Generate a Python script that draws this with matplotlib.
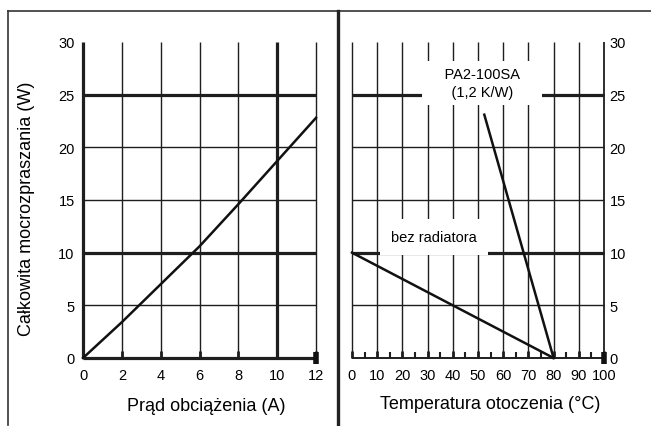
import matplotlib
matplotlib.use('Agg')
import matplotlib.pyplot as plt
from matplotlib.lines import Line2D

plt.rcParams['font.family'] = ['Liberation Sans', 'DejaVu Sans']

# ---- data ----
current_a = [0, 2, 4, 6, 8, 10, 12]
power_w = [0, 3.4, 7.0, 10.6, 14.6, 18.7, 22.8]

temp_bez = [0, 80]
power_bez = [10, 0]
temp_pa = [52.5, 80]
power_pa = [23.1, 0]

left_xticks = [0, 2, 4, 6, 8, 10, 12]
right_xticks = [0, 10, 20, 30, 40, 50, 60, 70, 80, 90, 100]
right_xminor = [5, 15, 25, 35, 45, 55, 65, 75, 85, 95]
yticks = [0, 5, 10, 15, 20, 25, 30]
left_thick_x = [0, 10]
left_thick_y = [0, 10, 25]
right_thick_y = [10, 25]

label_pa = "    PA2-100SA    \n    (1,2 K/W)    "
label_bez = "bez radiatora"

W, H = 651, 427
fig = plt.figure(figsize=(W / 100, H / 100), dpi=100)
fig.patch.set_facecolor('white')

axL = fig.add_axes([83 / W, 68 / H, 233 / W, 316 / H])
axR = fig.add_axes([352 / W, 68 / H, 252 / W, 316 / H])

gc = '#1e1e1e'
thin = 1.0
thick = 2.3

for ax in (axL, axR):
    for s in ax.spines.values():
        s.set_visible(False)
    ax.set_ylim(0, 30)
    ax.set_yticks(yticks)
    ax.patch.set_alpha(0)

# ---- left plot ----
axL.set_xlim(0, 12)
axL.set_xticks(left_xticks)
for x in left_xticks:
    axL.vlines(x, 0, 30, color=gc, lw=thick if x in left_thick_x else thin,
               clip_on=False, zorder=1)
for y in yticks[:-1]:
    axL.hlines(y, 0, 12, color=gc, lw=thick if y in left_thick_y else thin,
               clip_on=False, zorder=1)
axL.plot(current_a, power_w, color='#111111', lw=1.8, zorder=4, clip_on=False)
axL.plot([left_xticks[-1]], [0], marker='|', ms=9, mew=4, color='#111111', clip_on=False, zorder=5)
axL.tick_params(axis='x', direction='in', length=5, width=2, color=gc, labelsize=10.5, pad=7)
axL.tick_params(axis='y', direction='out', length=0, labelsize=10.5, pad=6)
axL.set_xlabel('Prąd obciążenia (A)', fontsize=13)
axL.xaxis.set_label_coords(0.531, -0.123)
axL.set_ylabel('Całkowita mocrozpraszania (W)', fontsize=13)
axL.yaxis.set_label_coords(-0.205, 0.475)

# ---- right plot ----
axR.set_xlim(0, 100)
axR.set_xticks(right_xticks)
axR.set_xticks(right_xminor, minor=True)
for x in right_xticks:
    axR.vlines(x, 0, 30, color=gc, lw=thin if x < 100 else 1.3, clip_on=False, zorder=1)
for y in yticks[:-1]:
    axR.hlines(y, 0, 100, color=gc, lw=thick if y in right_thick_y else (1.4 if y == 0 else thin),
               clip_on=False, zorder=1)
axR.plot(temp_bez, power_bez, color='#111111', lw=1.8, zorder=4, clip_on=False)
axR.plot(temp_pa, power_pa, color='#111111', lw=1.8, zorder=4, clip_on=False)
axR.plot([right_xticks[-1]], [0], marker='|', ms=9, mew=4, color='#111111', clip_on=False, zorder=5)
axR.yaxis.tick_right()
axR.tick_params(axis='x', which='major', direction='in', length=5, width=2, color=gc, labelsize=10.5, pad=7)
axR.tick_params(axis='x', which='minor', direction='in', length=4, width=1.5, color=gc)
axR.tick_params(axis='y', direction='out', length=0, labelsize=10.5, pad=4)
axR.set_xlabel('Temperatura otoczenia (°C)', fontsize=13)
axR.xaxis.set_label_coords(0.548, -0.117)

axR.text(51.6, 26.1, label_pa, ha='center', va='center',
         fontsize=10.5, linespacing=1.3, multialignment='center', zorder=3,
         bbox=dict(boxstyle='square,pad=0.45', facecolor='white', edgecolor='none'))
axR.text(32.6, 11.45, label_bez, ha='center', va='center', fontsize=10.5, zorder=3,
         bbox=dict(boxstyle='square,pad=0.75', facecolor='white', edgecolor='none'))

# ---- outer frame ----
fc = '#333333'
fig.add_artist(Line2D([8 / W, 1], [1 - 12 / H, 1 - 12 / H], color=fc, lw=1.2, transform=fig.transFigure))
fig.add_artist(Line2D([8 / W, 8 / W], [1 - 12 / H, 1 - 426 / H], color=fc, lw=1.2, transform=fig.transFigure))
fig.add_artist(Line2D([337.5 / W, 337.5 / W], [1 - 12 / H, 0], color='#222222', lw=2.4, transform=fig.transFigure))

fig.savefig('out.png', dpi=100)
